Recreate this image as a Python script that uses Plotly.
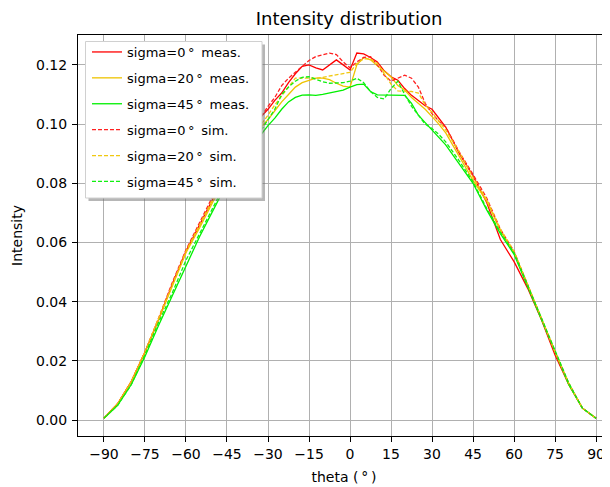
import plotly.graph_objects as go

theta = [-90, -85, -80, -75, -70, -65, -60, -55, -50, -45, -40, -35,
         -32.5, -30, -27.5, -25, -22.5, -20, -17.5, -15, -12.5, -10, -7.5, -5, -2.5,
         0, 2.5, 5, 7.5, 10, 12.5, 15, 17.5, 20, 22.5, 25, 27.5, 30, 32.5,
         35, 40, 45, 50, 55, 60, 65, 70, 75, 80, 85, 90]

meas_0 = [0.0006, 0.0055, 0.013, 0.023, 0.034, 0.046, 0.057, 0.066, 0.075, 0.084, 0.091, 0.099,
          0.1025, 0.105, 0.108, 0.1105, 0.114, 0.117, 0.1195, 0.120, 0.119, 0.1183, 0.120, 0.1217, 0.120,
          0.1183, 0.124, 0.1237, 0.1225, 0.121, 0.118, 0.116, 0.1148, 0.112, 0.1097, 0.108, 0.1062, 0.105, 0.102,
          0.099, 0.090, 0.0825, 0.0735, 0.061, 0.0535, 0.0445, 0.034, 0.022, 0.012, 0.004, 0.0006]

meas_20 = [0.0006, 0.0055, 0.013, 0.023, 0.034, 0.0455, 0.0565, 0.065, 0.074, 0.083, 0.089, 0.096,
           0.099, 0.1015, 0.1045, 0.1075, 0.110, 0.1125, 0.114, 0.1148, 0.1155, 0.1155, 0.115, 0.1138, 0.1128,
           0.1125, 0.120, 0.1225, 0.1217, 0.1197, 0.1178, 0.116, 0.113, 0.1115, 0.109, 0.107, 0.105, 0.1025, 0.100,
           0.097, 0.089, 0.081, 0.074, 0.064, 0.0565, 0.0455, 0.0345, 0.023, 0.012, 0.004, 0.0006]

meas_45 = [0.0006, 0.005, 0.012, 0.0215, 0.032, 0.042, 0.052, 0.062, 0.071, 0.080, 0.086, 0.093,
           0.0965, 0.0995, 0.102, 0.105, 0.1075, 0.109, 0.1098, 0.1099, 0.1097, 0.110, 0.1105, 0.111, 0.1115,
           0.1125, 0.1133, 0.1135, 0.111, 0.1099, 0.1099, 0.1099, 0.1099, 0.1097, 0.107, 0.103, 0.1005, 0.098, 0.0955,
           0.093, 0.0865, 0.080, 0.071, 0.063, 0.056, 0.045, 0.034, 0.0225, 0.012, 0.004, 0.0006]

sim_0 = [0.0006, 0.0055, 0.013, 0.023, 0.0345, 0.0465, 0.0575, 0.067, 0.076, 0.085, 0.092, 0.0995,
         0.1025, 0.106, 0.109, 0.113, 0.1155, 0.1175, 0.1195, 0.1215, 0.1228, 0.1235, 0.124, 0.1235, 0.121,
         0.119, 0.121, 0.1225, 0.1228, 0.120, 0.1165, 0.1145, 0.1155, 0.1165, 0.1155, 0.1125, 0.107, 0.1035, 0.101,
         0.099, 0.0905, 0.083, 0.075, 0.0645, 0.057, 0.0455, 0.0345, 0.023, 0.0125, 0.004, 0.0006]

sim_20 = [0.0006, 0.0055, 0.013, 0.023, 0.0345, 0.046, 0.057, 0.066, 0.075, 0.083, 0.090, 0.097,
          0.100, 0.103, 0.1065, 0.1095, 0.1125, 0.1155, 0.1155, 0.1155, 0.1155, 0.1158, 0.1162, 0.1168, 0.1172,
          0.1175, 0.1205, 0.122, 0.122, 0.1205, 0.117, 0.1135, 0.1112, 0.111, 0.111, 0.1105, 0.1065, 0.104, 0.101,
          0.098, 0.0905, 0.082, 0.0745, 0.0645, 0.057, 0.046, 0.0345, 0.023, 0.0125, 0.004, 0.0006]

sim_45 = [0.0006, 0.005, 0.012, 0.022, 0.033, 0.043, 0.054, 0.063, 0.072, 0.081, 0.0875, 0.095,
          0.098, 0.1015, 0.105, 0.110, 0.1125, 0.1145, 0.1158, 0.116, 0.1152, 0.1143, 0.1138, 0.1138, 0.114,
          0.1145, 0.1155, 0.114, 0.111, 0.109, 0.1085, 0.112, 0.1145, 0.110, 0.106, 0.103, 0.100, 0.0985, 0.0965,
          0.094, 0.0875, 0.0805, 0.0715, 0.0635, 0.0565, 0.0455, 0.0345, 0.023, 0.0125, 0.004, 0.0006]

series_names = ["sigma=0\u2009°\u2009 meas.", "sigma=20\u2009°\u2009 meas.", "sigma=45\u2009°\u2009 meas.",
                "sigma=0\u2009°\u2009 sim.", "sigma=20\u2009°\u2009 sim.", "sigma=45\u2009°\u2009 sim."]
series_values = [meas_0, meas_20, meas_45, sim_0, sim_20, sim_45]
series_colors = ["#ff0000", "#eec300", "#00f000", "#ff2020", "#f0c810", "#10f010"]
series_dash = ["solid", "solid", "solid", "4px,2px", "4px,2px", "4px,2px"]

xtick_vals = [-90, -75, -60, -45, -30, -15, 0, 15, 30, 45, 60, 75, 90]
xtick_text = ["\u221290", "\u221275", "\u221260", "\u221245", "\u221230", "\u221215",
              "0", "15", "30", "45", "60", "75", "90"]
ytick_vals = [0.00, 0.02, 0.04, 0.06, 0.08, 0.10, 0.12]

fig = go.Figure()
for i, (name, vals, col, dash) in enumerate(zip(series_names, series_values, series_colors, series_dash)):
    fig.add_trace(go.Scatter(x=theta, y=vals, mode="lines", name=name,
                             legendgroup=str(i),
                             line=dict(color=col, width=1.3, dash=dash)))

# The page body adds an 8px offset; the figure is sized to fill the rest of the window.
OFF = 8
W, H = 610 - OFF, 487 - OFF
L, R, T, B = 78 - OFF, 0, 35 - OFF, 487 - 436
pw, ph = W - L - R, H - T - B

def px2paper_x(page_px):
    return (page_px - OFF - L) / pw

def px2paper_y(page_py):
    return 1 - (page_py - OFF - T) / ph

# legend shadow and frame (matplotlib-like legend box)
fig.add_shape(type="rect", xref="paper", yref="paper",
              x0=px2paper_x(88.5), x1=px2paper_x(265), y0=px2paper_y(201), y1=px2paper_y(44.5),
              fillcolor="rgba(110,110,110,0.5)", line=dict(width=0), layer="above")
fig.add_shape(type="rect", xref="paper", yref="paper",
              x0=px2paper_x(85.5), x1=px2paper_x(262), y0=px2paper_y(198), y1=px2paper_y(41.5),
              fillcolor="white", line=dict(width=1, color="#d0d0d0"), layer="above")

fig.update_layout(
    width=W, height=H,
    margin=dict(l=L, r=R, t=T, b=B, pad=0),
    paper_bgcolor="white", plot_bgcolor="white",
    font=dict(family="DejaVu Sans", size=14, color="black"),
    title=dict(text="Intensity distribution", x=(349 - OFF) / W, xanchor="center", xref="container",
               y=1 - 10.5 / H, yanchor="middle", yref="container", font=dict(size=18)),
    xaxis=dict(range=[-99.5, 95.1], tickmode="array", tickvals=xtick_vals, ticktext=xtick_text,
               showgrid=True, gridcolor="#b0b0b0", gridwidth=1, zeroline=False, automargin=False,
               ticks="outside", ticklen=5, tickcolor="black", tickwidth=1,
               showline=True, linecolor="black", linewidth=1, mirror=True,
               tickfont=dict(size=14),
               title=dict(text="theta (\u2009°\u2009)", standoff=11, font=dict(size=14))),
    yaxis=dict(range=[-0.0054, 0.1301], tickmode="array", tickvals=ytick_vals, tickformat=".2f",
               showgrid=True, gridcolor="#b0b0b0", gridwidth=1, zeroline=False, automargin=False,
               ticks="outside", ticklen=5, tickcolor="black", tickwidth=1,
               showline=True, linecolor="black", linewidth=1, mirror=False,
               tickfont=dict(size=14), ticklabelstandoff=2,
               title=dict(text="Intensity", standoff=10, font=dict(size=14))),
    legend=dict(x=px2paper_x(87), y=px2paper_y(37), xanchor="left", yanchor="top",
                bgcolor="rgba(0,0,0,0)", borderwidth=0,
                font=dict(size=13), tracegroupgap=6, traceorder="grouped"),
    showlegend=True,
)

fig.write_html("out.html")
